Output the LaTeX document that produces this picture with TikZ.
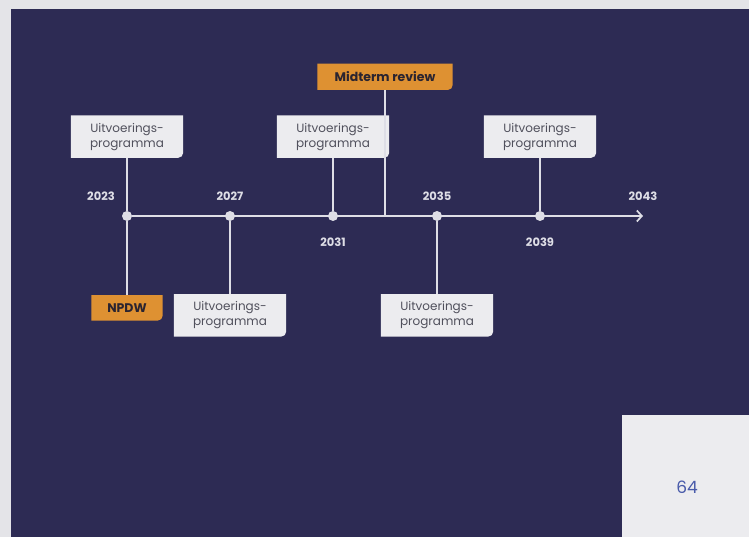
\documentclass[tikz,border=0pt]{standalone}
\usepackage{fontspec}
\setmainfont{Poppins}
\usetikzlibrary{arrows.meta, positioning, backgrounds}
\definecolor{PageGray}  {RGB}{228,228,232}
\definecolor{NightBlue} {RGB}{ 45, 43, 84}
\definecolor{LineWhite} {RGB}{222,222,230}
\definecolor{BoxGray}   {RGB}{236,236,239}
\definecolor{BoxText}   {RGB}{ 80, 80, 92}
\definecolor{TagOrange} {RGB}{222,145, 50}
\definecolor{TagText}   {RGB}{ 42, 36, 48}
\definecolor{PageBlue}  {RGB}{ 72, 90,170}
\tikzset{
  % programme box (its fill is drawn on the background layer)
  progbox/.style={
    rectangle, inner sep=0pt,
    font=\fontsize{12}{15}\selectfont, text=BoxText,
    minimum width=112pt, minimum height=42pt, align=center
  },
  % orange milestone tag
  tagbox/.style={
    rectangle, inner sep=0pt,
    font=\bfseries\fontsize{12.5}{14}\selectfont, text=TagText,
    minimum height=26pt, align=center
  },
  % point on the time line
  yeardot/.style={circle, fill=LineWhite, inner sep=0pt, minimum size=10pt},
  yearlabel/.style={
    font=\bfseries\fontsize{11.5}{13}\selectfont, text=LineWhite, inner sep=0pt
  },
  % connectors
  stem/.style={line width=1.7pt, draw=LineWhite},
  axis/.style={stem, -{Straight Barb[length=5pt, width=11pt]}}
}

\begin{document}
\begin{tikzpicture}[x=1pt, y=-1pt]

  % ── TIME LINE POINTS ─────────────────────────────────────────────
  \node[yeardot] (d23) at (127,216) {};
  \node[yeardot] (d27) at (230,216) {};
  \node[yeardot] (d31) at (333,216) {};
  \node[yeardot] (d35) at (437,216) {};
  \node[yeardot] (d39) at (540,216) {};
  \coordinate (m33) at (385,216);
  \coordinate (tip) at (643,216);

  % ── YEAR LABELS ──────────────────────────────────────────────────
  \node[yearlabel, above=10pt of d23, xshift=-26pt] (y23) {2023};
  \node[yearlabel, above=10pt of d27] (y27) {2027};
  \node[yearlabel, below=17pt of d31] (y31) {2031};
  \node[yearlabel, above=10pt of d35] (y35) {2035};
  \node[yearlabel, below=17pt of d39] (y39) {2039};
  \node[yearlabel, above=15pt of tip] (y43) {2043};

  % ── PROGRAMME BOXES ──────────────────────────────────────────────
  \node[progbox, above=53pt of d23] (pr23) {Uitvoerings-\\programma};
  \node[progbox, below=73pt of d27] (pr27) {Uitvoerings-\\programma};
  \node[progbox, above=53pt of d31] (pr31) {Uitvoerings-\\programma};
  \node[progbox, below=73pt of d35] (pr35) {Uitvoerings-\\programma};
  \node[progbox, above=53pt of d39] (pr39) {Uitvoerings-\\programma};

  % ── MILESTONE TAGS ───────────────────────────────────────────────
  \node[tagbox, minimum width=71pt, minimum height=25pt,
        below=74pt of d23] (npdw) {NPDW};
  \node[tagbox, minimum width=135pt, above=126pt of m33] (midterm)
        {Midterm review};

  % ── PAGE NUMBER ──────────────────────────────────────────────────
  \node[font=\fontsize{17}{20}\selectfont, text=PageBlue] (pagenr)
        at (687,487) {64};

  % ── CONNECTORS ───────────────────────────────────────────────────
  \draw[axis] (d23) -- (tip);
  \draw[stem] (pr23) -- (d23);
  \draw[stem] (d23) -- (npdw);
  \draw[stem] (d27) -- (pr27);
  \draw[stem] (pr31) -- (d31);
  \draw[stem] (midterm) -- (m33);
  \draw[stem] (d35) -- (pr35);
  \draw[stem] (pr39) -- (d39);

  % ── PANEL AND BOX FILLS ──────────────────────────────────────────
  \begin{scope}[on background layer]
    \fill[PageGray]  (0,0) rectangle (749,537);
    \fill[NightBlue] (11,9) rectangle (749,537);
    \fill[BoxGray]   (622,415) rectangle (749,537);
    \foreach \n in {pr23, pr27, pr31, pr35, pr39}
      \fill[BoxGray] (\n.north west) -- (\n.north east)
        -- ([yshift=5pt]\n.south east)
        arc[start angle=0, end angle=-90, radius=5pt]
        -- (\n.south west) -- cycle;
    \foreach \n in {npdw, midterm}
      \fill[TagOrange] (\n.north west) -- (\n.north east)
        -- ([yshift=5pt]\n.south east)
        arc[start angle=0, end angle=-90, radius=5pt]
        -- (\n.south west) -- cycle;
  \end{scope}

\end{tikzpicture}
\end{document}
